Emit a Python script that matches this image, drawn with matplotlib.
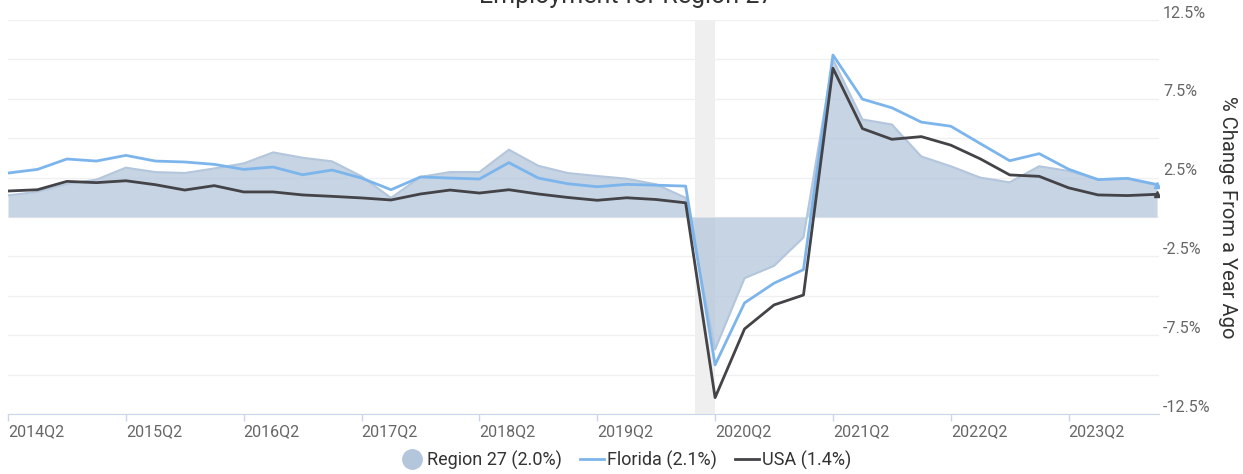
import numpy as np
import matplotlib.pyplot as plt
from matplotlib.lines import Line2D
from matplotlib.transforms import ScaledTranslation

plt.rcParams['font.family'] = ['Roboto', 'DejaVu Sans']

# quarters 2014Q2 .. 2024Q1
quarters = [f"{y}Q{q}" for y in range(2014, 2025) for q in range(1, 5)][1:41]

# % change from a year ago
region = [1.37, 1.60, 2.09, 2.37, 3.13, 2.85, 2.79, 3.08, 3.40, 4.10,
          3.76, 3.53, 2.58, 1.21, 2.54, 2.85, 2.85, 4.27, 3.25, 2.79,
          2.60, 2.43, 2.07, 1.22, -8.40, -3.88, -3.10, -1.30, 10.0, 6.19,
          5.87, 3.84, 3.22, 2.50, 2.20, 3.22, 2.92, 2.40, 2.45, 2.00]
florida = [2.79, 3.02, 3.68, 3.55, 3.91, 3.55, 3.49, 3.34, 3.02, 3.17,
           2.68, 2.98, 2.47, 1.73, 2.54, 2.47, 2.41, 3.45, 2.47, 2.11,
           1.92, 2.07, 2.02, 1.96, -9.38, -5.45, -4.20, -3.34, 10.28, 7.48,
           6.93, 6.02, 5.76, 4.66, 3.57, 4.02, 3.03, 2.37, 2.45, 2.06]
usa = [1.65, 1.73, 2.26, 2.18, 2.30, 2.05, 1.71, 1.99, 1.59, 1.59,
       1.40, 1.31, 1.21, 1.08, 1.46, 1.71, 1.52, 1.73, 1.46, 1.24,
       1.06, 1.22, 1.11, 0.90, -11.46, -7.10, -5.58, -4.95, 9.44, 5.61,
       4.93, 5.10, 4.56, 3.69, 2.67, 2.58, 1.85, 1.40, 1.36, 1.44]

labels = ["Region 27 (2.0%)", "Florida (2.1%)", "USA (1.4%)"]

# recession Feb 2020 - Apr 2020, in quarter units
rec_start = quarters.index("2020Q1") + 1 / 3
rec_end = quarters.index("2020Q2")

x = np.arange(len(quarters))

W, H = 1243, 474
fig = plt.figure(figsize=(W / 100, H / 100), dpi=100)
ax = fig.add_axes([8 / W, 1 - 414 / H, 1150.5 / W, 394 / H])

ax.axvspan(rec_start, rec_end, color='#efefef', lw=0, zorder=0)
ax.fill_between(x, 0, region, color='#b3c6dc', alpha=0.75, lw=0, zorder=2)
ax.plot(x, region, color='#b3c6dc', lw=1.5, zorder=2)
ax.plot(x, florida, color='#7cb5ec', lw=2, zorder=3)
ax.plot(x, usa, color='#434348', lw=2, zorder=4)
ax.plot(x[-1], florida[-1], marker='^', color='#7cb5ec', ms=5, zorder=3)
ax.plot(x[-1], usa[-1], marker='^', color='#434348', ms=5, zorder=4)

ax.set_xlim(0, 39.05)
ax.set_ylim(-12.5, 12.5)

# y axis on the right, labels every other gridline
ax.yaxis.tick_right()
ax.set_yticks([-12.5, -7.5, -2.5, 2.5, 7.5, 12.5])
ax.set_yticklabels(["-12.5%", "-7.5%", "-2.5%", "2.5%", "7.5%", "12.5%"])
ax.set_yticks([-10, -5, 0, 5, 10], minor=True)
ax.yaxis.grid(True, which='both', color='#f0f0f0', lw=1, zorder=1)
ax.tick_params(axis='y', which='both', length=0, pad=3.2, labelsize=11.5,
               labelcolor='#666666')
for lab in ax.get_yticklabels():
    lab.set_transform(lab.get_transform() + ScaledTranslation(0, 6 / 72, fig.dpi_scale_trans))

ax.set_xticks(x[::4])
ax.set_xticklabels(quarters[::4], ha='left')
ax.tick_params(axis='x', length=5, width=1, color='#ccd6eb', pad=2,
               labelsize=11.5, labelcolor='#666666')

for s in ['top', 'left', 'right']:
    ax.spines[s].set_visible(False)
ax.spines['bottom'].set_color('#ccd6eb')
ax.set_axisbelow(True)

fig.text(1228 / W, 1 - 217 / H, "% Change From a Year Ago", rotation=270,
         ha='center', va='center', fontsize=14.5, color='#333333')

fig.text(626 / W, 1 - 3 / H, "Employment for Region 27", ha='center',
         va='baseline', fontsize=18, color='#333333')

handles = [Line2D([], [], marker='o', ls='none', color='#b3c6dc', ms=14),
           Line2D([], [], color='#7cb5ec', lw=2),
           Line2D([], [], color='#434348', lw=2)]
leg = fig.legend(handles, labels, loc='center', bbox_to_anchor=(626 / W, 1 - 460 / H),
                 ncol=3, frameon=False, fontsize=13, handlelength=1.3,
                 handletextpad=0.2, columnspacing=1.0)
for t in leg.get_texts():
    t.set_color('#333333')

fig.savefig("out.png", dpi=100)
